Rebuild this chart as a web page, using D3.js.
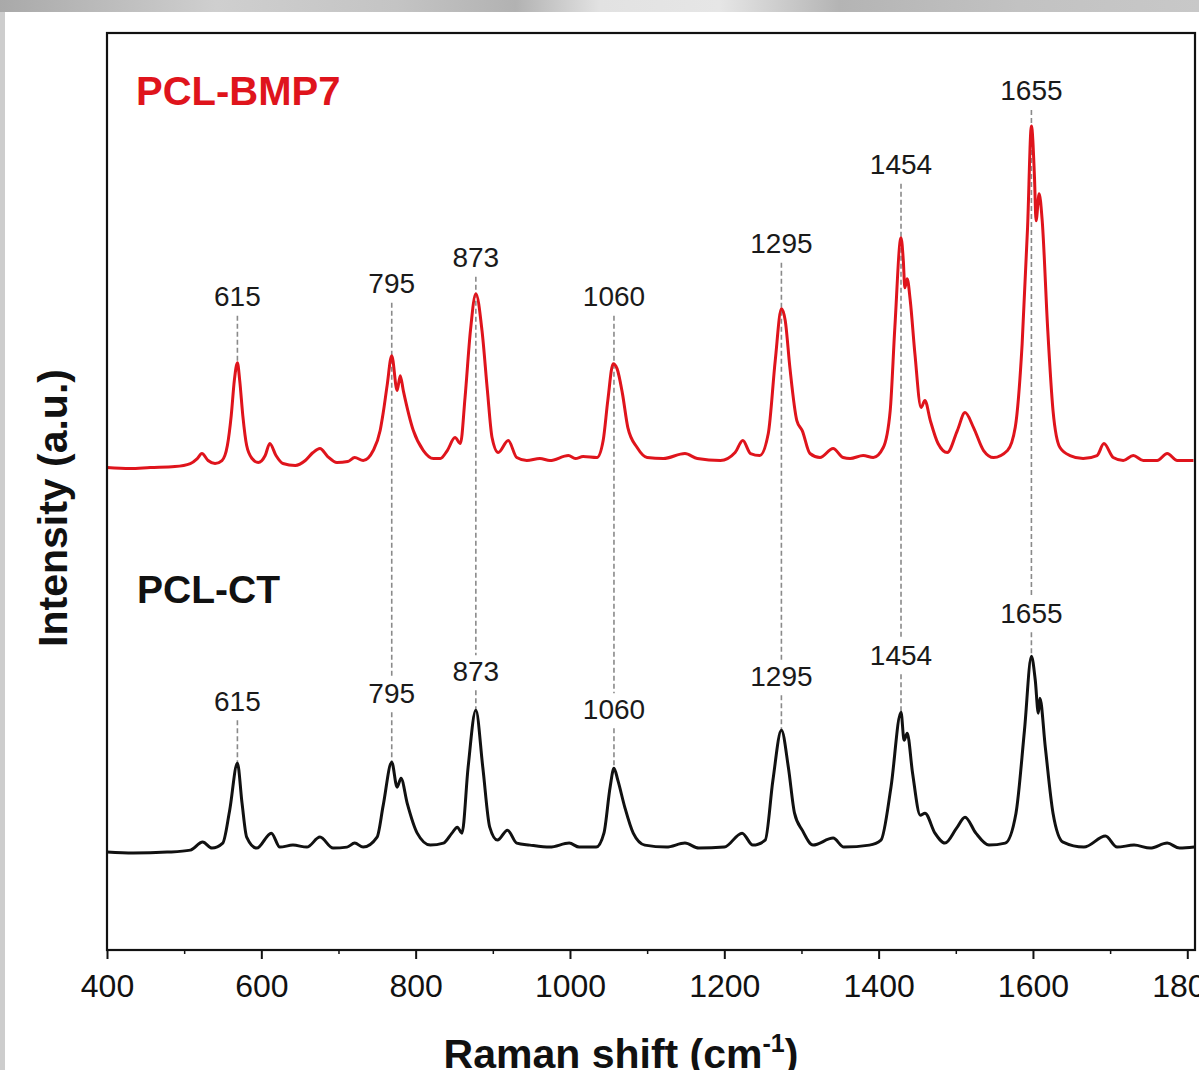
<!DOCTYPE html>
<html>
<head>
<meta charset="utf-8">
<script src="https://d3js.org/d3.v7.min.js"></script>
<style>
  body { margin: 0; background: #fff; }
  svg { display: block; font-family: "Liberation Sans", Arial, Helvetica, sans-serif; }
</style>
</head>
<body>
<div id="chart"></div>
<script>
// Raman spectra: [shift (cm-1), intensity above own baseline (a.u.)]
const bmp7Spectrum = [
  [400, 3], [430, 2], [456, 3], [488, 4], [508, 7], [517, 12], [523, 17], [531, 10], [540, 7],
  [549, 10], [556, 25], [561, 55], [565, 90], [569, 108], [572, 90], [576, 55], [581, 25],
  [588, 12], [596, 8], [605, 15], [611, 27], [619, 15], [628, 7], [644, 5], [657, 10], [667, 18],
  [676, 22], [686, 14], [698, 8], [712, 9], [721, 13], [732, 10], [745, 20], [754, 40], [758, 58],
  [763, 85], [769, 115], [776, 80], [780, 95], [784, 80], [797, 40], [810, 20], [823, 12],
  [832, 12], [841, 20], [851, 33], [858, 27], [864, 73], [871, 140], [878, 177], [886, 140],
  [893, 80], [899, 33], [907, 18], [920, 30], [931, 13], [944, 10], [961, 12], [974, 10],
  [998, 15], [1007, 12], [1017, 14], [1035, 13], [1043, 30], [1049, 70], [1056, 107], [1061, 102],
  [1068, 77], [1075, 43], [1087, 23], [1100, 13], [1121, 12], [1149, 17], [1165, 12], [1195, 10],
  [1214, 18], [1224, 30], [1234, 17], [1246, 15], [1257, 37], [1266, 110], [1274, 162], [1279, 150],
  [1285, 103], [1294, 50], [1301, 40], [1311, 17], [1324, 13], [1341, 22], [1354, 13], [1363, 12],
  [1380, 15], [1393, 13], [1406, 23], [1415, 60], [1421, 143], [1429, 233], [1432, 210], [1434, 183],
  [1437, 192], [1441, 170], [1447, 117], [1455, 63], [1460, 70], [1467, 50], [1477, 27], [1489, 18],
  [1502, 40], [1512, 58], [1523, 43], [1536, 20], [1549, 13], [1567, 20], [1577, 43], [1586, 127],
  [1593, 243], [1598, 345], [1602, 293], [1604, 250], [1608, 277], [1612, 250], [1619, 143],
  [1626, 60], [1635, 23], [1648, 15], [1665, 12], [1683, 15], [1692, 27], [1704, 13], [1717, 10],
  [1730, 15], [1743, 10], [1761, 10], [1774, 17], [1787, 10], [1808, 10]
];

const ctSpectrum = [
  [400, 3], [434, 2], [478, 3], [508, 5], [524, 13], [536, 7], [550, 12], [559, 45], [569, 92],
  [575, 52], [581, 18], [594, 7], [613, 22], [624, 8], [641, 10], [659, 8], [676, 18], [693, 7],
  [711, 8], [721, 12], [732, 8], [750, 18], [758, 50], [769, 93], [776, 68], [781, 77], [789, 52],
  [802, 22], [819, 10], [836, 12], [847, 22], [854, 28], [860, 22], [868, 88], [878, 145], [887, 88],
  [896, 28], [906, 15], [919, 25], [931, 12], [948, 10], [974, 8], [999, 12], [1012, 8], [1034, 8],
  [1044, 22], [1052, 68], [1057, 87], [1062, 75], [1071, 48], [1082, 22], [1097, 10], [1125, 8],
  [1149, 12], [1167, 7], [1200, 8], [1223, 22], [1237, 10], [1253, 15], [1263, 75], [1274, 125],
  [1283, 88], [1291, 42], [1301, 25], [1315, 10], [1341, 17], [1355, 8], [1388, 10], [1403, 15],
  [1416, 68], [1429, 143], [1433, 115], [1437, 122], [1444, 82], [1454, 40], [1460, 42], [1473, 22],
  [1486, 12], [1501, 27], [1512, 38], [1526, 22], [1543, 10], [1564, 12], [1578, 42], [1589, 125],
  [1598, 199], [1603, 175], [1607, 142], [1609, 157], [1616, 108], [1626, 42], [1639, 13],
  [1666, 8], [1694, 19], [1709, 8], [1731, 10], [1752, 7], [1774, 12], [1790, 7], [1809, 8]
];

// vertical stacking offsets of the two spectra (a.u.)
const bmp7Offset = 480;
const ctOffset = 95;

// annotated peaks: where the marker sits on the axis, and the printed label
const peakShifts = [569, 769, 878, 1057, 1274, 1429, 1598];
const peakLabels = ["615", "795", "873", "1060", "1295", "1454", "1655"];
// label heights (a.u., absolute)
const bmp7LabelHeights = [654, 667, 693, 654, 707, 786, 860];
const ctLabelHeights = [249, 257, 279, 241, 274, 295, 337];

const xTicks = [400, 600, 800, 1000, 1200, 1400, 1600, 1800];
const xMinorTicks = [500, 700, 900, 1100, 1300, 1500, 1700];

const W = 1199, H = 1070;
const plot = { left: 107, right: 1195, top: 33, bottom: 950 };
const red = "#df141c";

const svg = d3.select("#chart").append("svg")
  .attr("width", W)
  .attr("height", H);

// photo-like frame: grey strip along the top and left edges
const defs = svg.append("defs");
const grad = defs.append("linearGradient").attr("id", "topStrip");
[[0, "#a9a9a9"], [0.18, "#cfcfcf"], [0.33, "#c4c4c4"], [0.43, "#b2b2b2"], [0.5, "#e2e2e2"],
 [0.6, "#e6e6e6"], [0.7, "#b4b4b4"], [0.85, "#c2c2c2"], [1, "#c8c8c8"]].forEach(([o, c]) => {
  grad.append("stop").attr("offset", o).attr("stop-color", c);
});
svg.append("rect").attr("x", 0).attr("y", 0).attr("width", W).attr("height", 12)
  .attr("fill", "url(#topStrip)");
svg.append("rect").attr("x", 0).attr("y", 12).attr("width", 5).attr("height", H - 12)
  .attr("fill", "#cdcdcd");

const x = d3.scaleLinear().domain([400, 1810]).range([plot.left, plot.right]);
const y = d3.scaleLinear().domain([0, 918]).range([plot.bottom, plot.top]);

// peak intensity of a spectrum at a given shift
function peakAt(spec, shift) {
  return spec.reduce((a, b) => Math.abs(b[0] - shift) < Math.abs(a[0] - shift) ? b : a)[1];
}

// dashed guide lines
const guides = svg.append("g")
  .attr("stroke", "#8a8a8a")
  .attr("stroke-width", 1.6)
  .attr("stroke-dasharray", "5,3");

peakShifts.forEach((s, i) => {
  const px = x(s);
  const redTop = y(bmp7LabelHeights[i]) + 19;
  const redPeak = y(bmp7Offset + peakAt(bmp7Spectrum, s));
  const ctTop = y(ctLabelHeights[i]) - 16;
  const ctLabelBottom = y(ctLabelHeights[i]) + 19;
  const ctPeak = y(ctOffset + peakAt(ctSpectrum, s));
  guides.append("line")
    .attr("x1", px).attr("x2", px)
    .attr("y1", redTop)
    .attr("y2", i === 0 ? redPeak : ctTop);
  guides.append("line")
    .attr("x1", px).attr("x2", px)
    .attr("y1", ctLabelBottom)
    .attr("y2", ctPeak);
});

// spectra
const line = offset => d3.line()
  .x(d => x(d[0]))
  .y(d => y(offset + d[1]))
  .curve(d3.curveMonotoneX);

svg.append("path")
  .datum(bmp7Spectrum)
  .attr("fill", "none")
  .attr("stroke", red)
  .attr("stroke-width", 3)
  .attr("stroke-linejoin", "round")
  .attr("d", line(bmp7Offset));

svg.append("path")
  .datum(ctSpectrum)
  .attr("fill", "none")
  .attr("stroke", "#111")
  .attr("stroke-width", 3)
  .attr("stroke-linejoin", "round")
  .attr("d", line(ctOffset));

// peak labels
const labels = svg.append("g")
  .attr("font-size", 28)
  .attr("fill", "#1a1a1a")
  .attr("text-anchor", "middle")
  .attr("dominant-baseline", "central");

peakShifts.forEach((s, i) => {
  labels.append("text").attr("x", x(s)).attr("y", y(bmp7LabelHeights[i])).text(peakLabels[i]);
  labels.append("text").attr("x", x(s)).attr("y", y(ctLabelHeights[i])).text(peakLabels[i]);
});

// series names
svg.append("text")
  .attr("x", 136).attr("y", 105)
  .attr("font-size", 40).attr("font-weight", "bold")
  .attr("fill", red)
  .text("PCL-BMP7");

svg.append("text")
  .attr("x", 137).attr("y", 603)
  .attr("font-size", 39).attr("font-weight", "bold")
  .attr("fill", "#111")
  .text("PCL-CT");

// frame
svg.append("rect")
  .attr("x", plot.left).attr("y", plot.top)
  .attr("width", plot.right - plot.left)
  .attr("height", plot.bottom - plot.top)
  .attr("fill", "none")
  .attr("stroke", "#111")
  .attr("stroke-width", 2.2);

// bottom axis
const xAxis = svg.append("g")
  .attr("transform", `translate(0,${plot.bottom})`)
  .call(d3.axisBottom(x).tickValues(xTicks).tickSize(9).tickPadding(15).tickFormat(d3.format("d")));
xAxis.select(".domain").remove();
xAxis.selectAll(".tick line").attr("stroke", "#111").attr("stroke-width", 2);
xAxis.selectAll(".tick text")
  .attr("font-size", 32)
  .attr("fill", "#111")
  .attr("font-family", "Liberation Sans, Arial, sans-serif");

svg.append("g")
  .attr("transform", `translate(0,${plot.bottom})`)
  .call(d3.axisBottom(x).tickValues(xMinorTicks).tickSize(4).tickFormat(""))
  .call(g => g.select(".domain").remove())
  .selectAll(".tick line").attr("stroke", "#111").attr("stroke-width", 1.5);

// axis titles
const xTitle = svg.append("text")
  .attr("x", 621).attr("y", 1068)
  .attr("text-anchor", "middle")
  .attr("font-size", 41).attr("font-weight", "bold")
  .attr("fill", "#111");
xTitle.append("tspan").text("Raman shift (cm");
xTitle.append("tspan").attr("font-size", 25).attr("dy", -16).text("-1");
xTitle.append("tspan").attr("dy", 16).text(")");

svg.append("text")
  .attr("transform", "translate(67,508) rotate(-90)")
  .attr("text-anchor", "middle")
  .attr("font-size", 41).attr("font-weight", "bold")
  .attr("fill", "#111")
  .text("Intensity (a.u.)");
</script>
</body>
</html>
